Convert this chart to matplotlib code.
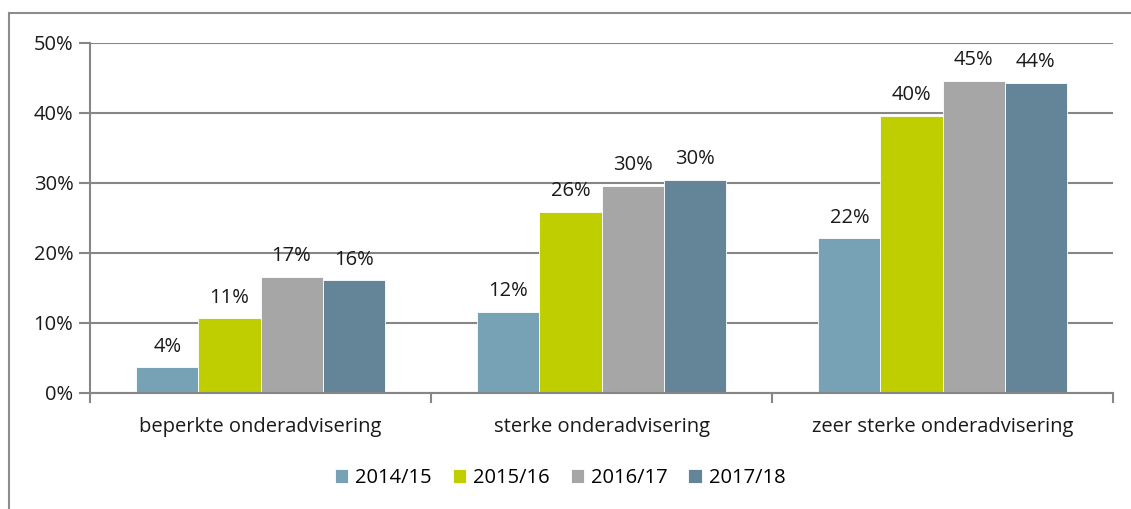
import numpy as np
import matplotlib.pyplot as plt
from matplotlib.lines import Line2D

categories = ["beperkte onderadvisering", "sterke onderadvisering", "zeer sterke onderadvisering"]
years = ["2014/15", "2015/16", "2016/17", "2017/18"]
v_2014 = [3.7, 11.6, 22.1]
v_2015 = [10.7, 25.9, 39.6]
v_2016 = [16.6, 29.6, 44.6]
v_2017 = [16.1, 30.5, 44.3]
labels_2014 = ["4%", "12%", "22%"]
labels_2015 = ["11%", "26%", "40%"]
labels_2016 = ["17%", "30%", "45%"]
labels_2017 = ["16%", "30%", "44%"]
yticks = [0, 10, 20, 30, 40, 50]

colors = ["#77A2B6", "#BFCE00", "#A6A6A6", "#648597"]
grey = "#868686"
fs = 14.5

plt.rcParams["font.family"] = ["Open Sans", "DejaVu Sans"]

W, H = 1131, 509
fig = plt.figure(figsize=(W / 100, H / 100), dpi=100)
ax = fig.add_axes([90 / W, (H - 393) / H, (1113 - 90) / W, (393 - 43) / H])

x = np.arange(len(categories))
bw = 0.182
series = [v_2014, v_2015, v_2016, v_2017]
texts = [labels_2014, labels_2015, labels_2016, labels_2017]
for i, (vals, labs) in enumerate(zip(series, texts)):
    pos = x + (i - 1.5) * bw
    ax.bar(pos, vals, width=bw, color=colors[i], edgecolor="white",
           linewidth=0.6, label=years[i], zorder=3)
    for px, v, t in zip(pos, vals, labs):
        ax.text(px, v + 1.5, t, ha="center", va="bottom", fontsize=fs,
                color="#1a1a1a", zorder=4)

ax.set_xlim(-0.5, 2.5)
ax.set_ylim(0, 50)
ax.set_yticks(yticks)
ax.set_yticklabels([f"{t}%" for t in yticks], fontsize=fs, color="#1a1a1a")
ax.set_xticks(x)
ax.set_xticklabels(categories, fontsize=fs, color="#1a1a1a")
ax.set_xticks([-0.5, 0.5, 1.5, 2.5], minor=True)
ax.tick_params(axis="x", which="major", length=0, pad=17)
ax.tick_params(axis="x", which="minor", length=7, width=1.5, color=grey)
ax.tick_params(axis="y", length=8, width=1.5, color=grey, pad=4)

ax.grid(axis="y", color=grey, linewidth=1.5, zorder=0)
for s in ["top", "right"]:
    ax.spines[s].set_visible(False)
for s in ["left", "bottom"]:
    ax.spines[s].set_color(grey)
    ax.spines[s].set_linewidth(1.5)
    ax.spines[s].set_zorder(5)

ax.legend(loc="center", bbox_to_anchor=(560 / W, (H - 478) / H),
          bbox_transform=fig.transFigure, ncol=4, frameon=False,
          fontsize=fs, handlelength=0.65, handleheight=0.65,
          handletextpad=0.35, columnspacing=1.05)

# outer frame (runs off the right and bottom edge)
fig.add_artist(Line2D([9 / W, 9 / W], [0, 1 - 13 / H], transform=fig.transFigure,
                      color="#8c8c8c", linewidth=1.5))
fig.add_artist(Line2D([9 / W, 1], [1 - 13 / H, 1 - 13 / H], transform=fig.transFigure,
                      color="#8c8c8c", linewidth=1.5))

fig.savefig("out.png", dpi=100)
